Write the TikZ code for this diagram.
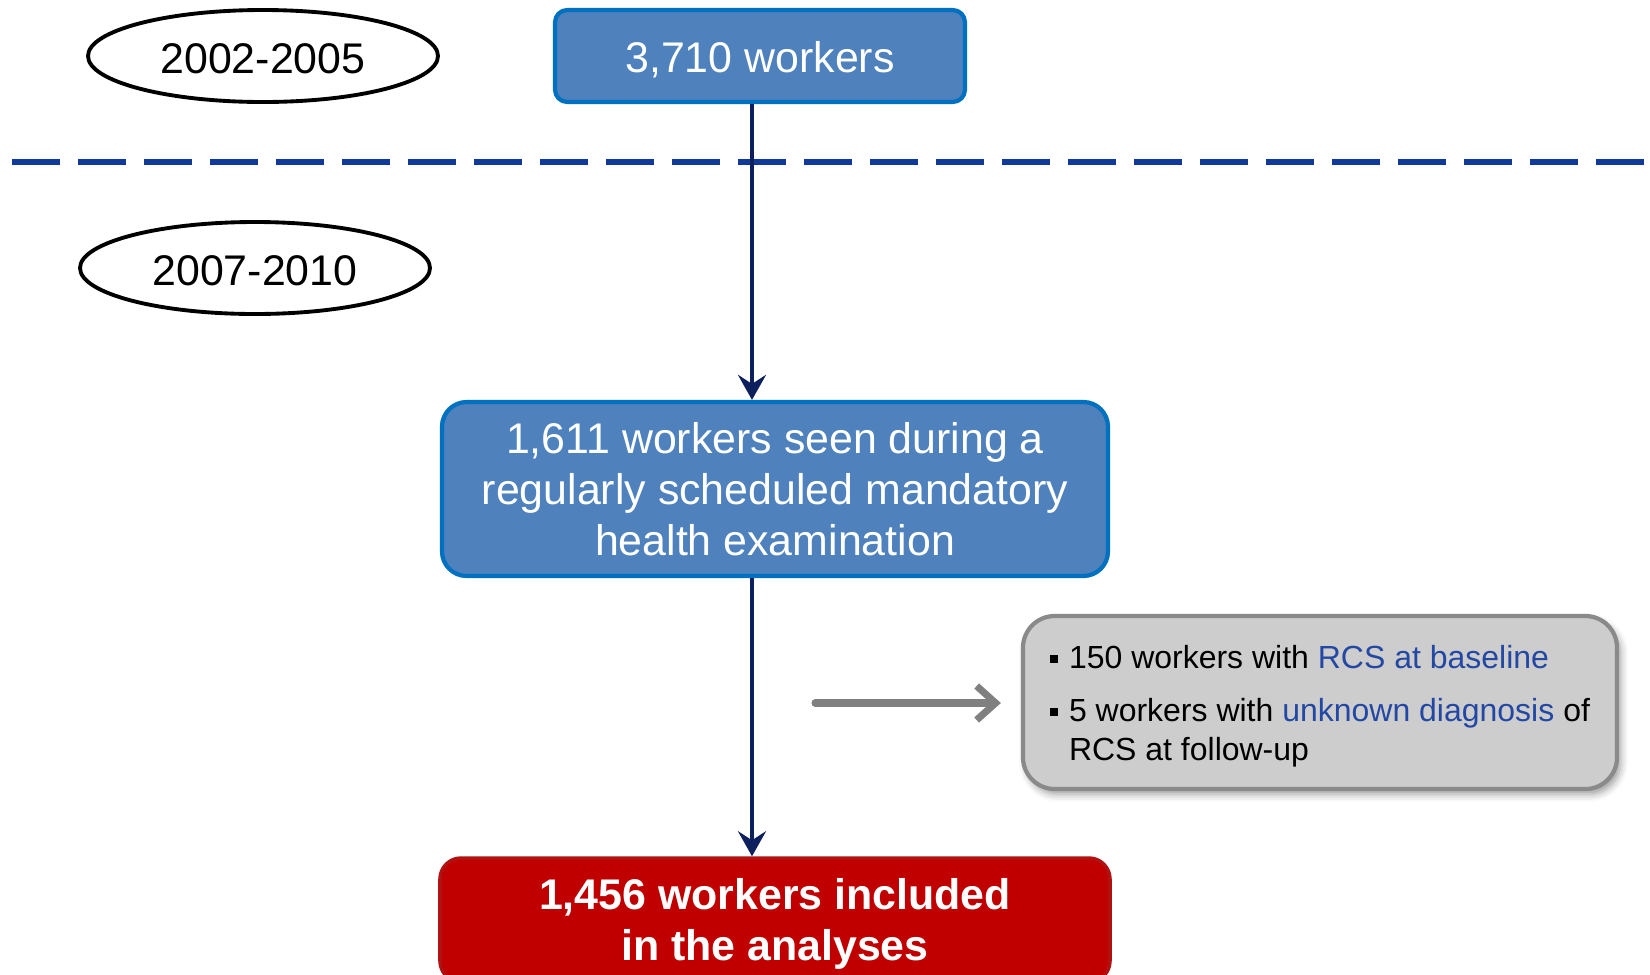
\documentclass[tikz,border=0pt]{standalone}
\usepackage{fontspec}
\setmainfont{Liberation Sans}
\usepackage{xcolor}
\definecolor{BoxBlue}{HTML}{4F81BD}
\definecolor{BoxBlueLine}{HTML}{0070C0}
\definecolor{Navy}{HTML}{0E1F5E}
\definecolor{DashBlue}{HTML}{10399A}
\definecolor{BoxRed}{HTML}{C00000}
\definecolor{BoxRedLine}{HTML}{B01212}
\definecolor{ExclGray}{HTML}{CDCDCD}
\definecolor{ExclLine}{HTML}{8A8A8A}
\definecolor{ArrowGray}{HTML}{808080}
\definecolor{TextBlue}{HTML}{2348A4}
\usepackage{tikz}
\usetikzlibrary{shapes.geometric, arrows.meta, positioning, shadows.blur}

\newcommand{\bul}{\rule[0.3ex]{2.2pt}{2.2pt}\hspace{3.2pt}}
\newcommand{\bulgap}{\hphantom{\bul}}

\begin{document}
\begin{tikzpicture}[>=Stealth,
  period/.style={ellipse, draw=black, line width=1.1pt, minimum width=3.5cm,
                 minimum height=0.92cm, inner sep=0pt, font=\fontsize{12.2}{14.4}\selectfont,
                 execute at begin node={\rule{0pt}{9.9pt}}},
  stage/.style={rectangle, rounded corners=5pt, draw=BoxBlueLine, line width=1.2pt,
                fill=BoxBlue, text=white, align=center, inner sep=0pt,
                font=\fontsize{12.2}{14.4}\selectfont},
  final/.style={rectangle, rounded corners=6pt, draw=BoxRedLine, line width=1pt,
                fill=BoxRed, text=white, align=center, inner sep=0pt,
                font=\fontsize{12.2}{14.4}\selectfont\bfseries},
  excl/.style={rectangle, rounded corners=9pt, draw=ExclLine, line width=1.2pt,
               fill=ExclGray, align=left, inner sep=0pt,
               font=\fontsize{9.1}{11.1}\selectfont,
               blur shadow={shadow xshift=1pt, shadow yshift=-1.5pt}},
  arr/.style={-{Stealth[length=2.5mm, width=2.8mm, inset=0.9mm]}, line width=1.25pt, color=Navy},
  garr/.style={-{Straight Barb[length=1.9mm, width=3.4mm]}, line width=2pt,
               color=ArrowGray, line cap=round, line join=round},
  sep/.style={dash pattern=on 0.48cm off 0.18cm, line width=1.7pt, color=DashBlue}
]
\useasboundingbox (0,0) rectangle (16.5,-9.75);

%% ---- Periods (left) ----
\node[period] (p1) at (2.63,-0.56) {2002-2005};
\node[period] (p2) at (2.55,-2.68) {2007-2010};

%% ---- Flow boxes ----
\node[stage, rounded corners=3.5pt, minimum width=4.10cm, minimum height=0.92cm,
      execute at begin node={\rule{0pt}{10.8pt}}]
  (cohort) at (7.60,-0.56) {3,710 workers};
\node[stage, rounded corners=7pt, minimum width=6.66cm, minimum height=1.74cm, text depth=-3.6pt]
  (seen) at (7.75,-4.89) {1,611 workers seen during a\\regularly scheduled mandatory\\health examination};
\node[final, minimum width=6.70cm, minimum height=1.24cm, text depth=0.2pt]
  (incl) at (7.75,-9.20) {1,456 workers included\\in the analyses};

%% ---- Exclusions (right) ----
\node[excl, minimum width=5.94cm, minimum height=1.73cm, text depth=-0.5pt] (excl) at (13.20,-7.025)
  {\bul 150 workers with \textcolor{TextBlue}{RCS at baseline}\\[4pt]
   \bul 5 workers with \textcolor{TextBlue}{unknown diagnosis} of\\
   \bulgap RCS at follow-up};

%% ---- Separator between the two periods ----
\coordinate (sepL) at (0.12,-1.62);
\coordinate (sepR) at (16.45,-1.62);
\draw[sep] (sepL) -- (sepR);

%% ---- Main flow ----
% the vertical spine sits a little left of the box centres
\coordinate (spine) at (7.52,0);
\draw[arr] (cohort.south -| spine) -- (seen.north -| spine);
\draw[arr] (seen.south -| spine) -- (incl.north -| spine);

%% ---- Exclusion arrow ----
\coordinate (gstart) at (8.15,-7.03);
\draw[garr, shorten >=2mm] (gstart) -- (excl.west |- gstart);

\end{tikzpicture}
\end{document}
